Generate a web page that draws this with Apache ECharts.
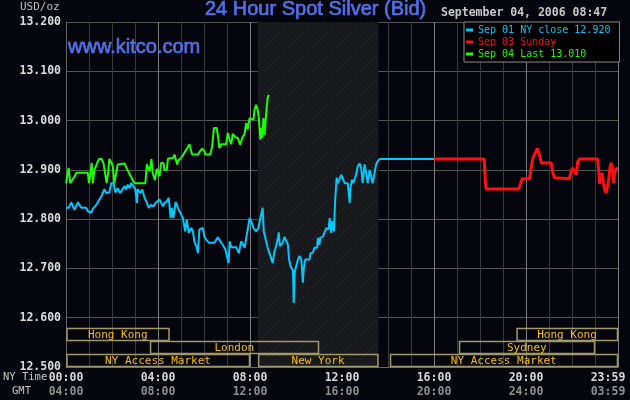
<!DOCTYPE html>
<html><head><meta charset="utf-8">
<script src="https://cdn.jsdelivr.net/npm/echarts@6/dist/echarts.min.js"></script>
<style>html,body{margin:0;padding:0;background:#05060d;}#c{width:630px;height:400px;}</style>
</head><body><div id="c"></div>
<script>
// Tick labels (x axis values are minutes after NY midnight)
const nyTimeLabels = ['00:00','04:00','08:00','12:00','16:00','20:00','23:59'];
const gmtLabels    = ['04:00','08:00','12:00','16:00','20:00','24:00','03:59'];
const seriesNames  = ['Sep 01 NY close 12.920','Sep 03 Sunday','Sep 04 Last 13.010'];

// [minute, price]
const sep01 = [[0,12.823],[7,12.823],[14,12.834],[18,12.826],[22,12.819],[27,12.819],[31,12.834],[35,12.829],[40,12.823],[53,12.823],[57,12.816],[66,12.813],[70,12.821],[74,12.823],[79,12.829],[83,12.834],[87,12.840],[92,12.846],[96,12.853],[100,12.861],[105,12.853],[113,12.854],[118,12.873],[124,12.873],[129,12.854],[135,12.863],[141,12.853],[147,12.860],[153,12.867],[157,12.860],[161,12.870],[166,12.863],[170,12.873],[176,12.867],[181,12.860],[185,12.833],[187,12.861],[194,12.853],[199,12.860],[205,12.843],[211,12.833],[216,12.823],[222,12.829],[228,12.826],[235,12.834],[244,12.840],[248,12.843],[253,12.826],[257,12.833],[263,12.836],[268,12.843],[273,12.802],[276,12.823],[280,12.802],[286,12.835],[292,12.823],[298,12.813],[305,12.802],[311,12.775],[315,12.799],[320,12.772],[327,12.782],[331,12.775],[335,12.755],[340,12.745],[344,12.731],[348,12.779],[353,12.783],[357,12.782],[361,12.765],[366,12.758],[373,12.752],[387,12.752],[392,12.756],[396,12.763],[402,12.756],[409,12.748],[416,12.738],[420,12.735],[424,12.711],[427,12.755],[431,12.743],[444,12.743],[451,12.731],[457,12.755],[461,12.750],[466,12.742],[470,12.742],[474,12.779],[479,12.802],[483,12.796],[489,12.782],[496,12.775],[502,12.782],[507,12.802],[513,12.823],[516,12.775],[520,12.762],[525,12.745],[529,12.735],[535,12.721],[539,12.711],[544,12.735],[548,12.745],[553,12.762],[555,12.773],[558,12.745],[561,12.742],[566,12.753],[570,12.764],[574,12.760],[579,12.748],[582,12.718],[586,12.704],[589,12.708],[592,12.696],[594,12.630],[597,12.694],[601,12.691],[605,12.718],[609,12.725],[614,12.718],[618,12.671],[620,12.698],[624,12.718],[629,12.721],[635,12.718],[638,12.731],[644,12.732],[648,12.742],[655,12.742],[657,12.762],[661,12.748],[663,12.762],[670,12.764],[674,12.772],[679,12.782],[685,12.779],[688,12.802],[692,12.772],[695,12.796],[699,12.775],[702,12.836],[706,12.884],[709,12.873],[713,12.880],[718,12.890],[722,12.894],[727,12.873],[731,12.877],[735,12.873],[740,12.833],[742,12.863],[746,12.880],[749,12.873],[753,12.873],[757,12.890],[761,12.907],[766,12.913],[770,12.904],[774,12.873],[779,12.911],[783,12.894],[787,12.873],[792,12.900],[796,12.900],[800,12.873],[805,12.894],[809,12.911],[813,12.917],[818,12.922],[960,12.922]];

const sep03 = [[960,12.922],[1091,12.922],[1092,12.907],[1094,12.877],[1096,12.861],[1181,12.861],[1185,12.870],[1190,12.882],[1209,12.882],[1214,12.907],[1218,12.924],[1222,12.931],[1227,12.938],[1229,12.944],[1232,12.942],[1235,12.931],[1240,12.914],[1266,12.914],[1270,12.894],[1274,12.884],[1313,12.882],[1318,12.897],[1322,12.904],[1326,12.900],[1331,12.890],[1335,12.917],[1340,12.922],[1387,12.922],[1390,12.894],[1392,12.872],[1396,12.872],[1399,12.894],[1402,12.873],[1405,12.860],[1409,12.853],[1413,12.867],[1416,12.882],[1419,12.904],[1422,12.914],[1425,12.906],[1428,12.873],[1431,12.894],[1435,12.902],[1440,12.902]];

const sep04 = [[0,12.873],[5,12.875],[7,12.904],[11,12.873],[16,12.877],[22,12.886],[27,12.894],[57,12.894],[60,12.873],[63,12.888],[67,12.914],[70,12.873],[74,12.900],[79,12.909],[86,12.922],[93,12.922],[98,12.913],[103,12.911],[106,12.873],[110,12.894],[113,12.922],[119,12.914],[122,12.907],[126,12.873],[131,12.872],[135,12.911],[153,12.913],[159,12.902],[167,12.890],[174,12.879],[179,12.873],[207,12.873],[211,12.911],[218,12.897],[223,12.922],[226,12.894],[232,12.879],[237,12.902],[241,12.894],[244,12.887],[248,12.914],[254,12.914],[257,12.900],[263,12.900],[266,12.923],[279,12.924],[283,12.931],[288,12.927],[290,12.911],[293,12.919],[300,12.924],[306,12.931],[314,12.941],[322,12.952],[327,12.948],[329,12.931],[344,12.931],[350,12.938],[355,12.943],[361,12.938],[364,12.931],[376,12.931],[381,12.946],[386,12.985],[393,12.985],[396,12.971],[400,12.944],[405,12.952],[418,12.952],[422,12.975],[427,12.961],[431,12.952],[435,12.973],[442,12.966],[448,12.965],[454,12.951],[460,12.965],[466,12.973],[470,12.995],[474,12.982],[479,13.005],[483,13.002],[489,13.002],[492,13.022],[496,13.032],[500,13.022],[503,13.005],[507,12.961],[509,12.985],[512,12.965],[515,13.005],[518,12.971],[522,13.012],[526,13.046],[529,13.052]];

// trading sessions: [start minute, end minute, row, label]
const sessions = [[0,270,2,'Hong Kong'],[218,660,1,'London'],[0,480,0,'NY Access Market'],[500,815,0,'New York'],[844,1440,0,'NY Access Market'],[1024,1380,1,'Sydney'],[1174,1440,2,'Hong Kong']];
const nySession = [500, 815];

const colors = ['#00c8ff', '#ff1010', '#1cff00'];
const mono = '"DejaVu Sans Mono", "Liberation Mono", monospace';

// dotted pattern for the New York session shading
const pat = document.createElement('canvas');
pat.width = 12; pat.height = 12;
const pc = pat.getContext('2d');
pc.fillStyle = '#18191c'; pc.fillRect(0,0,12,12);
pc.fillStyle = '#23305e';
[[0,11],[3,8],[6,5],[9,2]].forEach(p => pc.fillRect(p[0], p[1], 1, 1));

const chart = echarts.init(document.getElementById('c'), null, {renderer:'canvas'});
chart.setOption({
  backgroundColor: '#05060d',
  animation: false,
  title: [
    {text:'24 Hour Spot Silver (Bid)', left:205, top:-1, padding:0,
     textStyle:{color:'#5070e8', fontFamily:'"Liberation Sans", Arial, sans-serif', fontSize:20, fontWeight:'normal', textBorderColor:'#5070e8', textBorderWidth:0.7}},
    {text:'www.kitco.com', left:68, top:37, padding:0,
     textStyle:{color:'#5070e8', fontFamily:'"Liberation Sans", Arial, sans-serif', fontSize:20, fontWeight:'normal', textBorderColor:'#5070e8', textBorderWidth:0.7}},
    {text:'September 04, 2006 08:47', left:441, top:7, padding:0,
     textStyle:{color:'#c8c8c8', fontFamily:mono, fontSize:11.5, fontWeight:'bold'}},
    {text:'USD/oz', left:20, top:2, padding:0,
     textStyle:{color:'#c0c0c0', fontFamily:mono, fontSize:11, fontWeight:'normal'}}
  ],
  graphic: [
    {type:'text', left:3, top:372, style:{text:'NY Time', fill:'#c8c8c8', font:'10.5px ' + mono}},
    {type:'text', left:12, top:386, style:{text:'GMT', fill:'#c8c8c8', font:'10.5px ' + mono}}
  ],
  legend: {
    orient:'vertical', left:464, top:22, padding:[2,9,2,2], itemGap:0,
    itemWidth:7, itemHeight:3, icon:'rect',
    backgroundColor:'#000000', borderColor:'#8a8a8a', borderWidth:1,
    textStyle:{fontFamily:mono, fontSize:10, lineHeight:12},
    data: seriesNames.map((n,i) => ({name:n, textStyle:{color:colors[i]}}))
  },
  grid: [
    {left:66, right:12, top:22, height:345, containLabel:false, outerBoundsMode:'none'},
    {left:66, right:12, top:328, height:39, containLabel:false, outerBoundsMode:'none'}
  ],
  xAxis: [
    {type:'value', gridIndex:0, min:0, max:1440, interval:240,
     axisLine:{show:true, onZero:false, lineStyle:{color:'#666666'}},
     axisTick:{show:false},
     minorTick:{show:false, splitNumber:4},
     minorSplitLine:{show:true, lineStyle:{color:'#3a3a3a', width:1}},
     splitLine:{show:true, lineStyle:{color:'#7c7c7c', width:1}},
     axisLabel:{
       margin:4,
       formatter: v => {
         const i = Math.round(v/240);
         return i === 6 ? '{c|' + nyTimeLabels[i] + '}\n{d|' + gmtLabels[i] + '}'
                        : '{a|' + nyTimeLabels[i] + '}\n{b|' + gmtLabels[i] + '}';
       },
       rich:{
         a:{color:'#d8d8d8', fontFamily:mono, fontSize:11.5, fontWeight:'bold', lineHeight:14},
         b:{color:'#8e8e8e', fontFamily:mono, fontSize:11.5, fontWeight:'bold', lineHeight:14},
         c:{color:'#d8d8d8', fontFamily:mono, fontSize:11.5, fontWeight:'bold', lineHeight:14, padding:[0,20,0,0]},
         d:{color:'#8e8e8e', fontFamily:mono, fontSize:11.5, fontWeight:'bold', lineHeight:14, padding:[0,20,0,0]}
       }
     }},
    {type:'value', gridIndex:1, min:0, max:1440, show:false}
  ],
  yAxis: [
    {type:'value', gridIndex:0, min:12.5, max:13.2, interval:0.1,
     axisLine:{show:true, lineStyle:{color:'#666666'}},
     axisTick:{show:false},
     splitLine:{show:true, lineStyle:{color:'#555555', width:1}},
     axisLabel:{margin:5, color:'#dcdcdc', fontFamily:mono, fontSize:11.5, fontWeight:'bold',
                formatter: v => v.toFixed(3)}},
    {type:'value', gridIndex:1, min:0, max:3, show:false}
  ],
  series: [
    {name:'nyshade', type:'line', data:[], z:-1, silent:true, xAxisIndex:0, yAxisIndex:0,
     markArea:{silent:true, itemStyle:{color:{image:pat, repeat:'repeat'}},
               data:[[{xAxis:nySession[0]},{xAxis:nySession[1]}]]}},
    {name:seriesNames[0], type:'line', data:sep01, showSymbol:false, symbol:'none',
     color:colors[0], lineStyle:{width:2, color:colors[0]}, z:3},
    {name:seriesNames[1], type:'line', data:sep03, showSymbol:false, symbol:'none',
     color:colors[1], lineStyle:{width:3, color:colors[1]}, z:3},
    {name:seriesNames[2], type:'line', data:sep04, showSymbol:false, symbol:'none',
     color:colors[2], lineStyle:{width:2, color:colors[2]}, z:4},
    {name:'sessions', type:'custom', xAxisIndex:1, yAxisIndex:1, silent:true, z:5,
     data: sessions.map(s => [s[0], s[1], s[2]]),
     renderItem: (params, api) => {
       const s = api.value(0), e = api.value(1), r = api.value(2);
       const p0 = api.coord([s, r]), p1 = api.coord([e, r + 1]);
       const x = p0[0], w = p1[0] - p0[0], y = p1[1], h = p0[1] - p1[1];
       return {type:'group', children:[
         {type:'rect', shape:{x:x + 1, y:y + 0.5, width:w - 1.5, height:h - 1},
          style:{fill:'none', stroke:'#a09868', lineWidth:1.5}},
         {type:'text', style:{text:sessions[params.dataIndex][3], x:x + w/2, y:y + h/2 + 0.5,
          align:'center', verticalAlign:'middle', textAlign:'center', textVerticalAlign:'middle',
          fill:'#ffbf00', font:'11px ' + mono}}
       ]};
     }}
  ]
});
</script></body></html>
